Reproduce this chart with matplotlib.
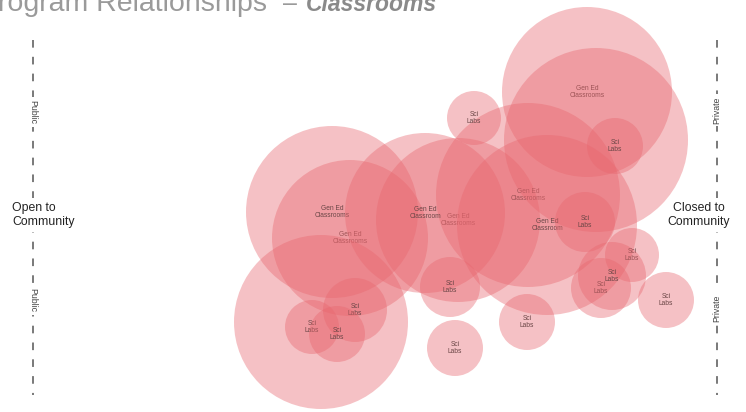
import matplotlib
matplotlib.use("Agg")
import matplotlib.pyplot as plt
from matplotlib.patches import Circle

# ---- data (pixel-space layout of the bubble diagram) ----
labels = ["Gen Ed\nClassrooms", "Gen Ed\nClassrooms", "Gen Ed\nClassrooms", "Gen Ed\nClassrooms",
          "", "", "Gen Ed\nClassrooms", "Gen Ed\nClassroom", "Gen Ed\nClassroom",
          "Sci\nLabs", "Sci\nLabs", "Sci\nLabs", "Sci\nLabs", "Sci\nLabs", "Sci\nLabs",
          "Sci\nLabs", "Sci\nLabs", "Sci\nLabs", "Sci\nLabs", "Sci\nLabs", "Sci\nLabs", "Sci\nLabs"]
openness = [587, 350, 458, 528, 596, 321, 332, 425, 547,
            474, 615, 585, 632, 601, 612, 666, 527, 455, 450, 355, 312, 337]
height = [92, 238, 220, 195, 140, 322, 212, 213, 225,
          118, 146, 222, 255, 288, 276, 300, 322, 348, 287, 310, 327, 334]
radius = [85, 78, 82, 92, 92, 87, 86, 80, 90,
          27, 28, 30, 27, 30, 34, 28, 28, 28, 30, 32, 27, 28]

fig = plt.figure(figsize=(7.46, 4.12), dpi=100)
ax = fig.add_axes([0, 0, 1, 1])
ax.set_xlim(0, 746)
ax.set_ylim(412, 0)
ax.axis("off")

fill = (0.91, 0.40, 0.43)
z = 2
for lab, x, y, r in zip(labels, openness, height, radius):
    ax.add_patch(Circle((x, y), r, facecolor=fill, edgecolor="none", alpha=0.40, zorder=z))
    if lab:
        ax.text(x, y, lab, ha="center", va="center", fontsize=4.8, color="#6a4646",
                family="Liberation Sans", linespacing=1.1, zorder=z + 1)
    z += 2

# ---- axes lines ----
dash = dict(color="#555555", lw=1.1, linestyle=(0, (5, 6)), zorder=1)
ax.plot([33, 33], [40, 395], **dash)
ax.plot([717, 717], [40, 395], **dash)

small = dict(fontsize=6.3, color="#444444", family="Liberation Sans", ha="center", va="center",
             bbox=dict(facecolor="white", edgecolor="none", pad=2), zorder=1.5)
for yy in [112, 300]:
    ax.text(33, yy, "Public", rotation=270, **small)
for yy in [110, 308]:
    ax.text(717, yy, "Private", rotation=90, **small)

side = dict(fontsize=8.8, color="#222222", family="Liberation Sans", va="center",
            linespacing=1.15, bbox=dict(facecolor="white", edgecolor="none", pad=3), zorder=1.5)
ax.text(12, 215, "Open to\nCommunity", ha="left", **side)
ax.text(699, 215, "Closed to\nCommunity", ha="center", multialignment="center", **side)

# ---- title (cropped at the top-left edge, as in the source image) ----
ax.text(267, 11, "Program Relationships", ha="right", va="baseline", fontsize=20.5,
        color="#9a9a9a", family="Liberation Sans")
ax.text(283, 11, "\u2013", ha="left", va="baseline", fontsize=18, color="#9a9a9a",
        family="Liberation Sans")
ax.text(306, 11, "Classrooms", ha="left", va="baseline", fontsize=16.5, color="#8a8a8a",
        family="Liberation Sans", fontweight="bold", fontstyle="italic")

fig.savefig("out.png", dpi=100)
